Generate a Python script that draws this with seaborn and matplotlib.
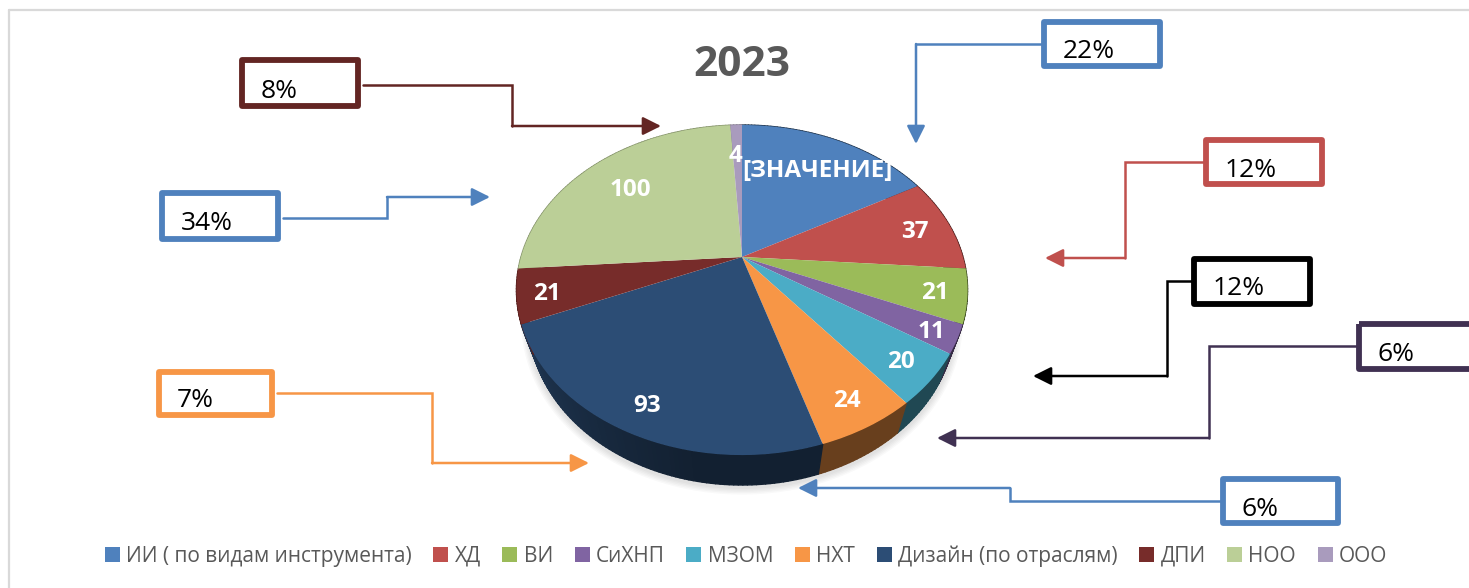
"""
Pie chart 2023 with callout boxes around a tilted 3D-looking pie
"""

import numpy as np
import matplotlib
matplotlib.use('Agg')
import matplotlib.pyplot as plt
import seaborn as sns
from matplotlib.patches import Patch, Rectangle
from matplotlib.transforms import Transform
from matplotlib.collections import PolyCollection

# Data
categories = ['ИИ ( по видам инструмента)', 'ХД', 'ВИ', 'СиХНП', 'МЗОМ', 'НХТ',
              'Дизайн (по отраслям)', 'ДПИ', 'НОО', 'ООО']
values = [67, 37, 21, 11, 20, 24, 93, 21, 100, 4]
value_labels = ['[ЗНАЧЕНИЕ]', '37', '21', '11', '20', '24', '93', '21', '100', '4']
slice_colors = ['#4f81bd', '#c0504d', '#9bbb59', '#8064a2', '#4bacc6', '#f79646',
                '#2c4d75', '#772c2a', '#bbcf97', '#a99bbd']
callout_labels = ['22%', '12%', '12%', '6%', '6%', '7%', '34%', '8%']
callout_colors = ['#4f81bd', '#c0504d', '#000000', '#403152', '#4f81bd', '#f79646',
                  '#4f81bd', '#632523']

# Layout (all in pixels of the 1469x588 image)
label_radius = [0.73, 0.83, 0.86, 0.89, 0.855, 0.858, 0.86, 0.87, 0.735, 0.76]
label_shift = [3, 0, 0, 0, 0, 0, 0, 0, 0, -2]
box_rects = [(1041, 19, 122, 50), (1203, 137, 122, 50), (1191, 256, 122, 51),
             (1356, 321, 126, 51), (1220, 476, 121, 50), (156, 369, 119, 49),
             (159, 190, 122, 52), (239, 57, 122, 52)]
text_pos = [(1063, 58), (1225, 177), (1213, 295), (1378, 361), (1242, 516),
            (177, 407), (181, 230), (261, 98)]
leader_paths = [
    [(1042, 44), (916, 44), (916, 144)],
    [(1204, 162), (1125, 162), (1125, 258), (1045, 258)],
    [(1192, 281), (1167, 281), (1167, 376), (1033, 376)],
    [(1357, 346), (1209, 346), (1209, 438), (937, 438)],
    [(1221, 501), (1010, 501), (1010, 488), (798, 488)],
    [(277, 393), (432, 393), (432, 463), (589, 463)],
    [(283, 218), (387, 218), (387, 197), (490, 197)],
    [(363, 85), (512, 85), (512, 126), (661, 126)],
]
PIE_X, PIE_Y = 742, 257
RADIUS_X, RADIUS_Y = 221, 158.4
TILT = 0.2
DEPTH = 30
BOTTOM_SHRINK = 0.945


class PieView(Transform):
    """Unit disc -> image pixels, with perspective so the far side looks smaller"""
    input_dims = 2
    output_dims = 2

    def __init__(self, shrink=1.0, drop=0.0):
        super().__init__()
        self.shrink = shrink
        self.drop = drop

    def transform_non_affine(self, values):
        values = np.asarray(values, dtype=float)
        w = 1 + TILT * values[:, 1]
        px = PIE_X + self.shrink * RADIUS_X * values[:, 0] / w
        py = PIE_Y - RADIUS_Y * values[:, 1] / w + self.drop
        return np.column_stack([px, py])


def disc_point(theta_deg, radius=1.0):
    # theta counted clockwise from the top, like the slices
    theta = np.radians(theta_deg)
    return np.column_stack([radius * np.sin(theta), radius * np.cos(theta)])


def rim_shade(theta_deg):
    # rim gets lighter towards the left end of the front
    return np.interp(theta_deg, [0, 190, 250, 360], [0.42, 0.42, 0.72, 0.72])


sns.set_theme(style='white')
plt.rcParams['font.family'] = ['Open Sans', 'DejaVu Sans']
palette = sns.color_palette(slice_colors)

fig = plt.figure(figsize=(14.69, 5.88), dpi=100, facecolor='white')
ax = fig.add_axes([0, 0, 1, 1])

top_view = PieView()
bottom_view = PieView(BOTTOM_SHRINK, DEPTH)

# Top face
wedges, _ = ax.pie(values, colors=palette, startangle=90, counterclock=False,
                   radius=1, wedgeprops={'linewidth': 0, 'zorder': 5})
ax.set_aspect('auto')
ax.set_xlim(0, 1469)
ax.set_ylim(588, 0)
ax.axis('off')
for w in wedges:
    w.set_transform(top_view + ax.transData)

# Soft shadow under the pie
ring = disc_point(np.linspace(0, 360, 241))
ring_px = bottom_view.transform(ring)
for lw in [11, 9, 7, 5, 3]:
    ax.plot(ring_px[:, 0], ring_px[:, 1] + 2, color='black', alpha=0.025, lw=lw, zorder=1)

# Side wall, built from the same slice angles
shares = np.array(values) / sum(values) * 360
edges = np.concatenate([[0], np.cumsum(shares)])
quads, quad_colors = [], []
for i, color in enumerate(palette):
    th = np.arange(edges[i], edges[i + 1], 1.0)
    th = np.append(th, edges[i + 1])
    upper = top_view.transform(disc_point(th))
    lower = bottom_view.transform(disc_point(th))
    for j in range(len(th) - 1):
        quads.append([upper[j], upper[j + 1], lower[j + 1], lower[j]])
        quad_colors.append(tuple(np.array(color) * rim_shade(th[j])))
ax.add_collection(PolyCollection(quads, facecolors=quad_colors, edgecolors=quad_colors,
                                 linewidths=1.0, zorder=3))

# Slice value labels
for i, label in enumerate(value_labels):
    mid = (edges[i] + edges[i + 1]) / 2
    px, py = top_view.transform(disc_point(np.array([mid]), label_radius[i]))[0]
    ax.text(px + label_shift[i], py + 3, label, color='white', fontsize=17.5, fontweight='bold',
            ha='center', va='center', zorder=7)

# Callouts
for label, color, rect, pos, path in zip(callout_labels, callout_colors, box_rects,
                                         text_pos, leader_paths):
    x, y, bw, bh = rect
    ax.add_patch(Rectangle((x + 3, y + 3), bw - 6, bh - 6, fill=False, edgecolor=color,
                           linewidth=4.2, joinstyle='round', zorder=8))
    ax.text(pos[0], pos[1], label, color='black', fontsize=19, ha='left', va='baseline', zorder=9)
    xs = [p[0] for p in path[:-1]]
    ys = [p[1] for p in path[:-1]]
    ax.plot(xs, ys, color=color, lw=1.8, zorder=8, solid_joinstyle='miter')
    ax.annotate('', xy=path[-1], xytext=path[-2], zorder=8,
                arrowprops=dict(arrowstyle='-|>,head_length=1.1,head_width=0.55', color=color,
                                lw=1.8, shrinkA=0, shrinkB=0, mutation_scale=10))

# Title
ax.text(PIE_X, 66, '2023', color='#595959', fontsize=30.5, fontweight='bold', ha='center', va='center')

# Outer frame
ax.plot([9, 9], [588, 10], color='#d9d9d9', lw=1.6, zorder=0)
ax.plot([9, 1469], [10, 10], color='#d9d9d9', lw=1.6, zorder=0)

# Legend
handles = [Patch(facecolor=c, edgecolor='none', label=name) for c, name in zip(palette, categories)]
ax.legend(handles=handles, ncol=10, loc='center', bbox_to_anchor=(746 / 1469, 1 - 556 / 588),
          frameon=False, fontsize=15, labelcolor='#595959', handlelength=0.72, handleheight=0.72,
          handletextpad=0.3, columnspacing=1.04, borderpad=0, borderaxespad=0)

plt.savefig('out.png', dpi=100)
